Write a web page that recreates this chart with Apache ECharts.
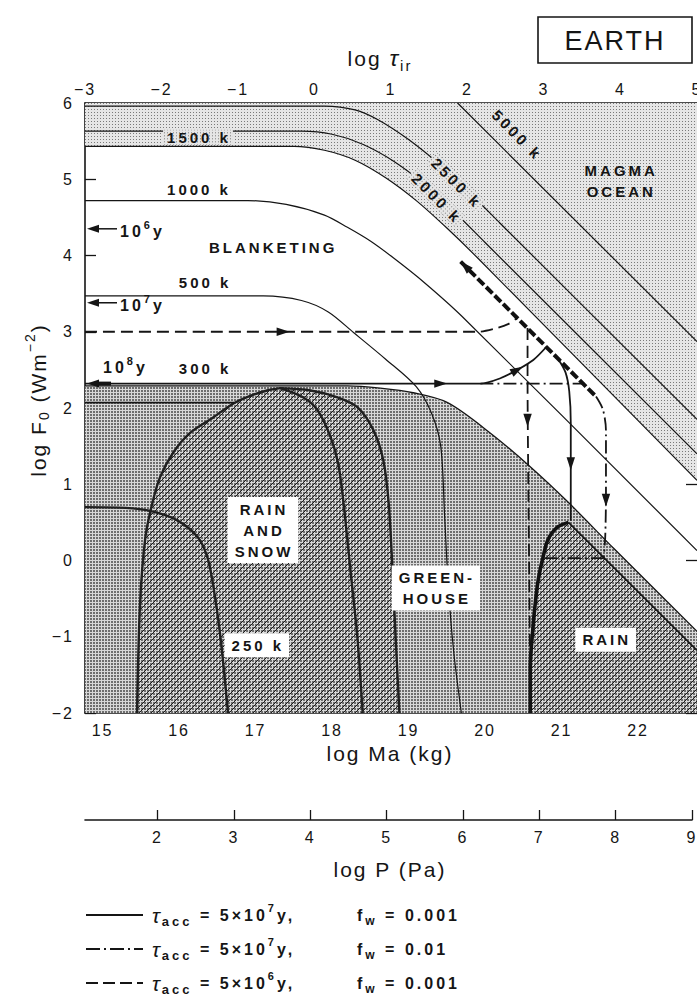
<!DOCTYPE html>
<html>
<head>
<meta charset="utf-8">
<title>EARTH – log F0 vs log Ma</title>
<script src="https://cdn.jsdelivr.net/npm/echarts@6/dist/echarts.min.js"></script>
<style>
  html, body { margin: 0; padding: 0; background: #fff; }
  #chart { width: 697px; height: 1007px; }
  #chart text { letter-spacing: 2px; }
  #chart text[style*="bold"] { letter-spacing: 3px; }
</style>
</head>
<body>
<div id="chart"></div>
<script>
const FONT = "'Liberation Sans', Arial, Helvetica, sans-serif";
const INK = '#151515';

// ---- axes ----
const logMaRange = [14.77, 22.77];
const logTauRange = [-3, 5];
const logFRange = [-2, 6];
const logPRange = [1.05, 9];
const logMaTicks = [15, 16, 17, 18, 19, 20, 21, 22];
const logPTicks = [2, 3, 4, 5, 6, 7, 8, 9];

// ---- surface temperature contours  [log Ma, log F0] ----
const T5000 = [[19.64, 6.0], [22.77, 2.87]];
const T2500 = [[14.77, 5.96], [17.9, 5.96], [18.3, 5.91], [18.6, 5.78], [19.0, 5.52], [19.42, 5.18], [19.8, 4.82], [20.2, 4.42], [22.77, 1.85]];
const T2000 = [[14.77, 5.63], [17.6, 5.63], [18.0, 5.59], [18.4, 5.46], [18.8, 5.24], [19.2, 4.94], [19.6, 4.57], [20.0, 4.17], [22.77, 1.40]];
const T1500 = [[14.77, 5.43], [17.5, 5.43], [17.9, 5.38], [18.3, 5.25], [18.7, 5.02], [19.1, 4.72], [19.5, 4.36], [19.9, 3.97], [22.77, 1.05]];
const T1000 = [[14.77, 4.72], [16.9, 4.72], [17.4, 4.67], [17.9, 4.53], [18.2, 4.37], [18.5, 4.19], [18.8, 3.97], [19.2, 3.65], [19.7, 3.2], [22.77, 0.13]];
const T500 = [[14.77, 3.47], [17.1, 3.47], [17.6, 3.41], [17.95, 3.26], [18.28, 2.99], [18.7, 2.64], [19.1, 2.28], [19.3, 1.93], [19.42, 1.5], [19.47, 0.6], [19.52, -0.35], [19.59, -1.2], [19.69, -2.0]];
const T250 = [[14.77, 0.70], [15.3, 0.69], [15.62, 0.65], [15.97, 0.53], [16.24, 0.31], [16.37, 0.04], [16.45, -0.35], [16.54, -1.0], [16.64, -2.0]];

// greenhouse boundary (top of the dark region)
const GREENHOUSE_EDGE = [[14.77, 2.29], [18.2, 2.29], [18.63, 2.26], [19.06, 2.2], [19.51, 2.07], [20.07, 1.67], [20.59, 1.23], [21.08, 0.77], [21.68, 0.16], [22.77, -0.93]];

// rain-and-snow zone
const RS_LEFT = [[15.45, -2.0], [15.49, -0.56], [15.56, 0.31], [15.65, 0.75], [15.75, 1.09], [15.92, 1.41], [16.14, 1.67], [16.45, 1.88], [16.71, 2.06], [16.93, 2.16], [17.15, 2.23], [17.32, 2.26]];
const RS_MID = [[17.32, 2.26], [17.62, 2.14], [17.81, 1.97], [17.98, 1.62], [18.08, 1.27], [18.15, 0.75], [18.24, -0.13], [18.33, -1.0], [18.40, -2.0]];
const RS_RIGHT = [[17.32, 2.26], [17.72, 2.23], [18.07, 2.14], [18.33, 2.01], [18.54, 1.71], [18.67, 1.31], [18.74, 0.75], [18.79, -0.13], [18.83, -1.0], [18.88, -2.0]];
const SHELF = [[14.77, 2.07], [16.72, 2.07]];

// rain zone
const RAIN_EDGE = [[20.59, -2.0], [20.59, -1.40], [20.62, -0.95], [20.66, -0.52], [20.70, -0.22], [20.75, 0.01], [20.82, 0.27], [20.95, 0.44], [21.09, 0.50]];
const RAIN_SLOPE = [[21.09, 0.50], [22.77, -1.18]];

// evolution tracks
const SOLID_IN = [[14.77, 2.32], [19.94, 2.32], [20.2, 2.39], [20.42, 2.5], [20.63, 2.63], [20.8, 2.8]];
const SOLID_OUT = [[20.95, 2.65], [21.05, 2.47], [21.1, 2.22], [21.12, 1.8], [21.12, 0.52]];
const DASHDOT_IN = [[19.94, 2.32], [21.3, 2.32]];
const DASHDOT_OUT = [[21.45, 2.15], [21.54, 1.98], [21.58, 1.7], [21.58, 0.9], [21.57, 0.3], [21.55, 0.03]];
const DASHDOT_FLOOR = [[21.55, 0.03], [20.75, 0.03]];
const DASHED_IN = [[14.77, 3.0], [19.9, 3.0], [20.12, 3.04], [20.3, 3.1], [20.42, 3.18]];
const DASHED_OUT = [[20.555, 3.05], [20.555, 2.4], [20.565, 1.0], [20.58, -0.5], [20.59, -2.0]];
const MAGMA_TRACK = [[19.68, 3.92], [21.45, 2.15]];

// arrowheads: log Ma, log F0, direction (dMa, dF)
const ARROWS = [[17.36, 3.0, 1, 0], [19.42, 2.32, 1, 0], [20.42, 2.5, 1, 0.55], [21.12, 1.27, 0, -1], [21.58, 0.79, 0, -1], [20.555, 1.84, 0, -1], [19.74, 3.86, -1, 1]];

// elapsed-time marks on the flux axis
const AGE_MARKS = [{ logF: 4.35, power: '6' }, { logF: 3.38, power: '7' }, { logF: 2.32, power: '8' }];

// region labels
const annotations = [
  { text: '1500 k', at: [16.26, 5.55], fill: 'light' },
  { text: '1000 k', at: [16.26, 4.86] },
  { text: '500 k', at: [16.34, 3.64] },
  { text: '300 k', at: [16.34, 2.52] },
  { text: 'BLANKETING', at: [17.23, 4.10] },
  { text: '5000 k', at: [20.42, 5.58], angle: -45 },
  { text: '2500 k', at: [19.63, 4.95], angle: -45, fill: 'light' },
  { text: '2000 k', at: [19.37, 4.75], angle: -45, fill: 'light' },
  { text: 'MAGMA\nOCEAN', at: [21.78, 4.98] },
  { text: 'RAIN\nAND\nSNOW', at: [17.11, 0.40], fill: 'white' },
  { text: 'GREEN-\nHOUSE', at: [19.37, -0.36], fill: 'white' },
  { text: 'RAIN', at: [21.59, -1.04], fill: 'white' },
  { text: '250 k', at: [17.03, -1.11], fill: 'white' }
];

const LEGEND = [
  { dash: null, tau: ['5×10', '7'], fw: '0.001' },
  { dash: [14, 4, 2, 4], tau: ['5×10', '7'], fw: '0.01' },
  { dash: [12, 5], tau: ['5×10', '6'], fw: '0.001' }
];

// ---- text measuring (letter spacing comes from the page stylesheet) ----
const measureCtx = document.createElement('canvas').getContext('2d');
function runWidth(t, font) {
  measureCtx.font = font;
  return measureCtx.measureText(t).width + t.length * (/bold/.test(font) ? 3 : 2);
}
// lay out pieces of text side by side (for sub/superscripts)
function runs(x, y, parts, align) {
  const total = parts.reduce((s, p) => s + runWidth(p.t, p.font), 0);
  let cur = align === 'center' ? x - total / 2 : x;
  return parts.map(p => {
    const el = { type: 'text', x: cur, y: y + (p.dy || 0), style: { text: p.t, font: p.font, fill: INK, align: 'left', verticalAlign: 'middle' } };
    cur += runWidth(p.t, p.font);
    return el;
  });
}

// ---- fill textures ----
function tile(size, draw) {
  const c = document.createElement('canvas');
  c.width = c.height = size;
  draw(c.getContext('2d'));
  return c;
}
function dots(g) {
  g.fillStyle = '#d8d8d8'; g.fillRect(0, 0, 6, 6);
  g.fillStyle = '#6e6e6e';
  [[0, 0], [3, 0], [0, 3], [3, 3]].forEach(([x, y]) => g.fillRect(x, y, 2, 2));
}
const lightTile = tile(3, g => { g.fillStyle = '#e6e6e6'; g.fillRect(0, 0, 3, 3); g.fillStyle = '#7a7a7a'; g.fillRect(1, 1, 1, 1); });
const darkTile = tile(6, dots);
const hatchTile = tile(6, g => {
  dots(g);
  g.strokeStyle = '#1c1c1c'; g.lineWidth = 1;
  g.beginPath(); g.moveTo(-1, 7); g.lineTo(7, -1); g.moveTo(-1, 1); g.lineTo(1, -1); g.moveTo(5, 7); g.lineTo(7, 5); g.stroke();
});
const pattern = c => ({ image: c, repeat: 'repeat', imageWidth: c.width, imageHeight: c.height });
const LIGHT = pattern(lightTile), DARK = pattern(darkTile), HATCH = pattern(hatchTile);

// ---- series builders ----
function area(points, fill, z) {
  return {
    type: 'custom', xAxisIndex: 0, yAxisIndex: 0, silent: true, z, animation: false,
    data: [points[0]],
    renderItem: (params, api) => ({
      type: 'polygon',
      shape: { points: points.map(p => api.coord(p)) },
      style: { fill: fill, lineWidth: 0 }
    })
  };
}
function curve(points, style, z, smooth) {
  return {
    type: 'line', xAxisIndex: 0, yAxisIndex: 0, data: points, symbol: 'none', showSymbol: false,
    smooth: smooth == null ? 0.3 : smooth, silent: true, z: z || 5, animation: false,
    lineStyle: Object.assign({ color: INK, width: 1.2, cap: 'butt', join: 'round' }, style || {})
  };
}

const thin = { width: 1.2 };
const heavy = { width: 2.4, color: '#202020' };
const track = { width: 1.8 };
const DASHED = { width: 1.8, type: [12, 6] };
const DASHDOT = { width: 1.8, type: [13, 4, 2, 4] };
const LABEL_FONT = 'bold 15px ' + FONT;

const series = [
  area(T1500.concat([[22.77, 6], [14.77, 6]]), LIGHT, 1),
  area(GREENHOUSE_EDGE.concat([[22.77, -2], [14.77, -2]]), DARK, 2),
  area(RS_LEFT.concat(RS_RIGHT.slice(1)), HATCH, 3),
  area(RAIN_EDGE.concat(RAIN_SLOPE.slice(1), [[22.77, -2]]), HATCH, 3),

  curve(T5000, thin), curve(T2500, thin), curve(T2000, thin), curve(T1500, thin),
  curve(T1000, thin), curve(T500, thin), curve(GREENHOUSE_EDGE, { width: 1.3 }),
  curve(RS_LEFT, heavy), curve(RS_MID, heavy), curve(RS_RIGHT, heavy), curve(T250, heavy),
  curve(SHELF, { width: 1.6 }),
  curve(RAIN_EDGE, { width: 3.6, color: '#111' }), curve(RAIN_SLOPE, { width: 1.6 }),

  curve(SOLID_IN, track, 6), curve(SOLID_OUT, track, 6),
  curve(DASHDOT_IN, DASHDOT, 6), curve(DASHDOT_OUT, DASHDOT, 6), curve(DASHDOT_FLOOR, DASHDOT, 6),
  curve(DASHED_IN, DASHED, 6), curve(DASHED_OUT, DASHED, 6),
  curve(MAGMA_TRACK, { width: 4, type: [9, 3], color: '#111' }, 6, 0),

  {
    type: 'custom', xAxisIndex: 0, yAxisIndex: 0, silent: true, z: 7, animation: false,
    data: ARROWS,
    renderItem: (params, api) => {
      const p = api.coord([api.value(0), api.value(1)]);
      let dx = api.value(2), dy = -api.value(3);
      const n = Math.hypot(dx, dy); dx /= n; dy /= n;
      const L = 13, W = 4.2;
      const tip = [p[0] + dx * L / 2, p[1] + dy * L / 2];
      const b = [p[0] - dx * L / 2, p[1] - dy * L / 2];
      return {
        type: 'polygon',
        shape: { points: [tip, [b[0] - dy * W, b[1] + dx * W], [b[0] + dy * W, b[1] - dx * W]] },
        style: { fill: INK }
      };
    }
  },
  {
    type: 'custom', xAxisIndex: 0, yAxisIndex: 0, silent: true, z: 7, animation: false,
    data: AGE_MARKS.map(a => [logMaRange[0], a.logF]),
    renderItem: (params, api) => {
      const p = api.coord([api.value(0), api.value(1)]);
      const mark = AGE_MARKS[params.dataIndex];
      const last = params.dataIndex === AGE_MARKS.length - 1;
      const x0 = p[0] + 2, y = p[1];
      const head = {
        type: 'polygon',
        shape: { points: [[x0, y], [x0 + 12, y - 4], [x0 + 12, y + 4]] },
        style: { fill: INK }
      };
      const words = (tx, ty) => runs(tx, ty, [
        { t: '10', font: 'bold 16px ' + FONT },
        { t: mark.power, font: 'bold 11px ' + FONT, dy: -7 },
        { t: 'y', font: 'bold 16px ' + FONT }
      ]);
      const shaft = last
        ? { type: 'rect', shape: { x: x0 + 10, y: y - 2, width: 14, height: 4 }, style: { fill: INK } }
        : { type: 'line', shape: { x1: x0 + 10, y1: y, x2: x0 + 30, y2: y }, style: { stroke: INK, lineWidth: 1.5 } };
      return {
        type: 'group',
        children: [head, shaft].concat(last ? words(x0 + 16, y - 16) : words(x0 + 33, y + 3))
      };
    }
  },
  {
    type: 'custom', xAxisIndex: 0, yAxisIndex: 0, silent: true, z: 8, animation: false,
    data: annotations.map(a => a.at),
    renderItem: (params, api) => {
      const a = annotations[params.dataIndex];
      const p = api.coord([api.value(0), api.value(1)]);
      const lines = a.text.split('\n');
      const children = [];
      if (a.fill) {
        const w = Math.max.apply(null, lines.map(l => runWidth(l, LABEL_FONT))) + (a.fill === 'white' ? 12 : 6);
        const h = a.fill === 'white' ? lines.length * 21 + 3 : 15;
        children.push({
          type: 'rect', shape: { x: -w / 2 - 1, y: -h / 2, width: w, height: h },
          style: { fill: a.fill === 'white' ? '#ffffff' : LIGHT, lineWidth: 0 }
        });
      }
      children.push({
        type: 'text', x: 0, y: 0,
        style: { text: a.text, font: LABEL_FONT, fill: INK, align: 'center', verticalAlign: 'middle', lineHeight: 21 }
      });
      return { type: 'group', x: p[0], y: p[1], rotation: (a.angle || 0) * Math.PI / 180, children };
    }
  }
];

// ---- page furniture: titles, legend ----
const graphic = [
  { type: 'rect', shape: { x: 538, y: 17, width: 154, height: 46 }, style: { fill: '#fff', stroke: INK, lineWidth: 1.6 } },
  { type: 'text', x: 615, y: 41, style: { text: 'EARTH', font: '27px ' + FONT, fill: INK, align: 'center', verticalAlign: 'middle' } }
].concat(
  runs(380, 58, [
    { t: 'log ', font: '21px ' + FONT },
    { t: 'τ', font: 'italic 23px ' + FONT },
    { t: 'ir', font: '15px ' + FONT, dy: 7 }
  ], 'center'),
  [{
    type: 'group', x: 38, y: 400, rotation: Math.PI / 2,
    children: runs(0, 0, [
      { t: 'log F', font: '21px ' + FONT },
      { t: '0', font: '14px ' + FONT, dy: 6 },
      { t: ' (Wm', font: '21px ' + FONT },
      { t: '−2', font: '14px ' + FONT, dy: -8 },
      { t: ')', font: '21px ' + FONT }
    ], 'center')
  }],
  [
    { type: 'text', x: 390, y: 753, style: { text: 'log Ma (kg)', font: '21px ' + FONT, fill: INK, align: 'center', verticalAlign: 'middle' } },
    { type: 'text', x: 390, y: 869, style: { text: 'log P (Pa)', font: '21px ' + FONT, fill: INK, align: 'center', verticalAlign: 'middle' } }
  ]
);
LEGEND.forEach((row, i) => {
  const y = 915 + i * 34;
  graphic.push({ type: 'line', shape: { x1: 86, y1: y, x2: 143, y2: y }, style: { stroke: INK, lineWidth: 2, lineDash: row.dash } });
  graphic.push.apply(graphic, runs(152, y, [
    { t: 'τ', font: 'italic 21px ' + FONT },
    { t: 'acc', font: 'bold 13px ' + FONT, dy: 6 },
    { t: ' = ' + row.tau[0], font: 'bold 16px ' + FONT },
    { t: row.tau[1], font: 'bold 11px ' + FONT, dy: -7 },
    { t: 'y,', font: 'bold 16px ' + FONT }
  ]));
  graphic.push.apply(graphic, runs(357, y, [
    { t: 'f', font: 'bold 16px ' + FONT },
    { t: 'w', font: 'bold 12px ' + FONT, dy: 6 },
    { t: ' = ' + row.fw, font: 'bold 16px ' + FONT }
  ]));
});

const minus = v => String(v).replace('-', '−');
const axisLine = { onZero: false, lineStyle: { color: INK, width: 1.6 } };
const tick = { inside: true, length: 11, lineStyle: { color: INK, width: 1.3 } };
const label = { color: INK, fontSize: 16, fontFamily: FONT };

const option = {
  animation: false,
  backgroundColor: '#ffffff',
  textStyle: { fontFamily: FONT },
  grid: [
    { left: 85, top: 103, width: 612, height: 610, outerBoundsMode: 'none' },
    { left: 85, top: 780, width: 607, height: 40, outerBoundsMode: 'none' }
  ],
  xAxis: [
    {
      type: 'value', gridIndex: 0, position: 'bottom', min: logMaRange[0], max: logMaRange[1],
      axisLine, splitLine: { show: false },
      axisTick: Object.assign({ customValues: logMaTicks }, tick),
      axisLabel: Object.assign({ customValues: logMaTicks, margin: 9 }, label)
    },
    {
      type: 'value', gridIndex: 0, position: 'top', min: logTauRange[0], max: logTauRange[1], interval: 1,
      axisLine, splitLine: { show: false }, axisTick: tick,
      axisLabel: Object.assign({ margin: 6, formatter: minus, showMinLabel: true, showMaxLabel: true }, label)
    },
    {
      type: 'value', gridIndex: 1, position: 'bottom', min: logPRange[0], max: logPRange[1],
      axisLine, splitLine: { show: false },
      axisTick: Object.assign({ customValues: logPTicks }, tick, { length: 10 }),
      axisLabel: Object.assign({ customValues: logPTicks, margin: 9 }, label)
    }
  ],
  yAxis: [
    {
      type: 'value', gridIndex: 0, position: 'left', min: logFRange[0], max: logFRange[1], interval: 1,
      axisLine, splitLine: { show: false }, axisTick: tick,
      axisLabel: Object.assign({ margin: 11, formatter: minus }, label)
    },
    {
      type: 'value', gridIndex: 0, position: 'right', min: logFRange[0], max: logFRange[1], interval: 1,
      axisLine: { show: false, onZero: false }, splitLine: { show: false }, axisTick: tick, axisLabel: { show: false }
    },
    { type: 'value', gridIndex: 1, min: 0, max: 1, show: false }
  ],
  series,
  graphic
};

const chart = echarts.init(document.getElementById('chart'), null, { renderer: 'svg' });
chart.setOption(option);
</script>
</body>
</html>
